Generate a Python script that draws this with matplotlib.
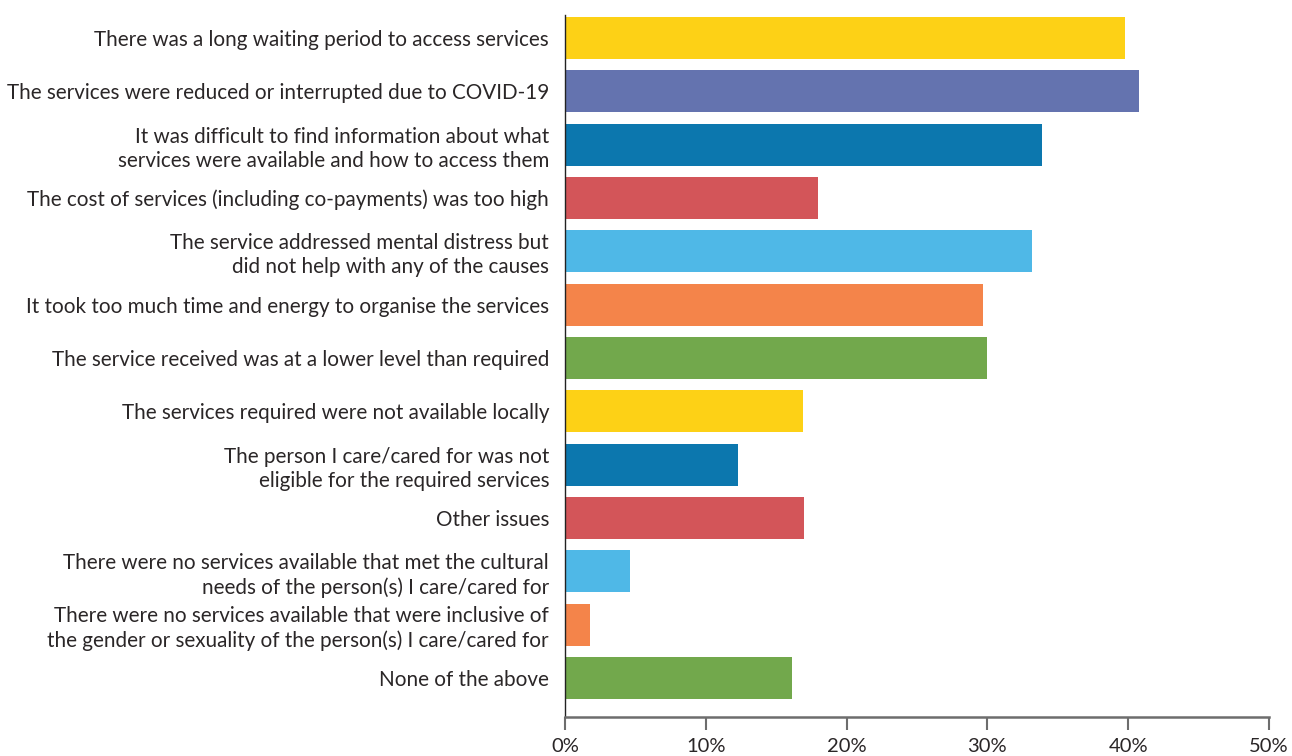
import matplotlib.pyplot as plt
from matplotlib.ticker import FuncFormatter

categories = [
    "There was a long waiting period to access services",
    "The services were reduced or interrupted due to COVID-19",
    "It was difficult to find information about what\nservices were available and how to access them",
    "The cost of services (including co-payments) was too high",
    "The service addressed mental distress but\ndid not help with any of the causes",
    "It took too much time and energy to organise the services",
    "The service received was at a lower level than required",
    "The services required were not available locally",
    "The person I care/cared for was not\neligible for the required services",
    "Other issues",
    "There were no services available that met the cultural\nneeds of the person(s) I care/cared for",
    "There were no services available that were inclusive of\nthe gender or sexuality of the person(s) I care/cared for",
    "None of the above",
]
values = [39.8, 40.8, 33.9, 18.0, 33.2, 29.7, 30.0, 16.9, 12.3, 17.0, 4.6, 1.8, 16.1]
colors = ["#FDD116", "#6473AF", "#0C77AE", "#D35559", "#4FB8E7", "#F4844A", "#72A84C",
          "#FDD116", "#0C77AE", "#D35559", "#4FB8E7", "#F4844A", "#72A84C"]

plt.rcParams['font.family'] = ['Lato', 'DejaVu Sans']
text_color = "#2a2627"

fig = plt.figure(figsize=(12.92, 7.56), dpi=100)
ax = fig.add_axes([0.4373, 0.0516, 0.5449, 0.9286])

pos = list(range(len(categories)))
ax.barh(pos, values, height=0.79, color=colors)

ax.set_xlim(0, 50)
ax.set_ylim(12.73, -0.43)
ax.set_yticks(pos)
ax.set_yticklabels(categories, fontsize=14.9, color=text_color, linespacing=1.25)
ax.tick_params(axis='y', length=0, pad=11.5)
ax.set_xticks([0, 10, 20, 30, 40, 50])
ax.xaxis.set_major_formatter(FuncFormatter(lambda v, p: f"{int(v)}%"))
ax.tick_params(axis='x', length=9, width=1.5, color="#6d6d6d", labelsize=14.5,
               labelcolor=text_color, pad=6)

for side in ['top', 'right']:
    ax.spines[side].set_visible(False)
ax.spines['left'].set_color('#222222')
ax.spines['left'].set_linewidth(1.0)
ax.spines['bottom'].set_color('#6d6d6d')
ax.spines['bottom'].set_linewidth(1.8)

plt.savefig('out.png', dpi=100)
